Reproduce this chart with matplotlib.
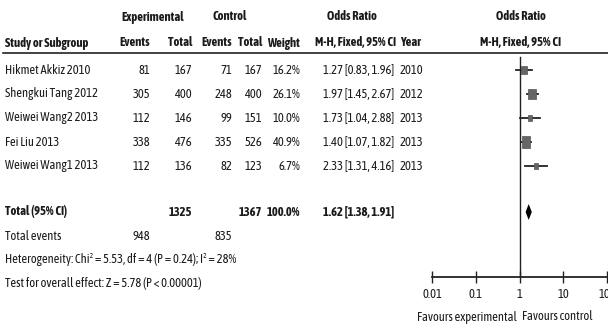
import matplotlib
matplotlib.use("Agg")
import matplotlib.pyplot as plt
from matplotlib import font_manager
import numpy as np

# pick a narrow face (with a bold cut if possible), else shrink the regular one
fonts = font_manager.fontManager.ttflist

def is_bold(f):
    w = f.weight
    if isinstance(w, str):
        return w.lower() in ("bold", "semibold", "demibold", "heavy", "black", "extra bold")
    return w >= 600

names = sorted({f.name for f in fonts})
narrow = [n for n in names if "Narrow" in n or "Condensed" in n]
narrow_bold = [n for n in narrow if any(f.name == n and is_bold(f) for f in fonts)]
if narrow_bold or narrow:
    plt.rcParams['font.family'] = [(narrow_bold or narrow)[0], 'DejaVu Sans']
    fs = 9.0
else:
    plt.rcParams['font.family'] = ['Liberation Sans', 'DejaVu Sans']
    fs = 7.2

studies = ["Hikmet Akkiz 2010", "Shengkui Tang 2012", "Weiwei Wang2 2013", "Fei Liu 2013", "Weiwei Wang1 2013"]
exp_events = [81, 305, 112, 338, 112]
exp_total = [167, 400, 146, 476, 136]
ctl_events = [71, 248, 99, 335, 82]
ctl_total = [167, 400, 151, 526, 123]
weights = [16.2, 26.1, 10.0, 40.9, 6.7]
odds = [1.27, 1.97, 1.73, 1.40, 2.33]
ci_low = [0.83, 1.45, 1.04, 1.07, 1.31]
ci_high = [1.96, 2.67, 2.88, 1.82, 4.16]
years = [2010, 2012, 2013, 2013, 2013]

total_exp, total_ctl = 1325, 1367
total_weight = 100.0
events_exp, events_ctl = 948, 835
pooled = 1.62
pooled_low, pooled_high = 1.38, 1.91
heterogeneity = "Heterogeneity: Chi\u00b2 = 5.53, df = 4 (P = 0.24); I\u00b2 = 28%"
overall = "Test for overall effect: Z = 5.78 (P < 0.00001)"
ticks = [0.01, 0.1, 1, 10, 100]
tick_labels = ["0.01", "0.1", "1", "10", "100"]

W, H = 608, 325
fig = plt.figure(figsize=(W / 100, H / 100), dpi=100)

# table area in pixel coordinates
ax = fig.add_axes([0, 0, 1, 1])
ax.set_xlim(0, W)
ax.set_ylim(H, 0)
ax.axis("off")

tc = "#1a1a1a"
row_y = [70 + 24 * i for i in range(len(studies))]
y_total, y_events, y_het, y_test = 212, 236, 260, 283

def txt(x, y, s, ha="left", bold=False):
    ax.text(x, y, s, ha=ha, va="center", fontsize=fs, color=tc,
            fontweight="bold" if bold else "normal")

# headers
txt(153, 17, "Experimental", "center", True)
txt(230, 17, "Control", "center", True)
txt(352, 17, "Odds Ratio", "center", True)
txt(521, 17, "Odds Ratio", "center", True)
txt(5, 43, "Study or Subgroup", bold=True)
txt(150, 43, "Events", "right", True)
txt(192, 43, "Total", "right", True)
txt(232, 43, "Events", "right", True)
txt(262, 43, "Total", "right", True)
txt(300, 43, "Weight", "right", True)
txt(356, 43, "M-H, Fixed, 95% CI", "center", True)
txt(400, 43, "Year", bold=True)
txt(521, 43, "M-H, Fixed, 95% CI", "center", True)
ax.plot([3, W], [53, 53], color="#222222", lw=1.2)

for i, y in enumerate(row_y):
    txt(5, y, studies[i])
    txt(150, y, str(exp_events[i]), "right")
    txt(192, y, str(exp_total[i]), "right")
    txt(232, y, str(ctl_events[i]), "right")
    txt(262, y, str(ctl_total[i]), "right")
    txt(300, y, "%.1f%%" % weights[i], "right")
    txt(323, y, "%.2f [%.2f, %.2f]" % (odds[i], ci_low[i], ci_high[i]))
    txt(400, y, str(years[i]))

txt(5, y_total, "Total (95% CI)", bold=True)
txt(192, y_total, str(total_exp), "right", True)
txt(262, y_total, str(total_ctl), "right", True)
txt(300, y_total, "%.1f%%" % total_weight, "right", True)
txt(323, y_total, "%.2f [%.2f, %.2f]" % (pooled, pooled_low, pooled_high), bold=True)
txt(5, y_events, "Total events")
txt(150, y_events, str(events_exp), "right")
txt(232, y_events, str(events_ctl), "right")
txt(5, y_het, heterogeneity)
txt(5, y_test, overall)

# forest plot
x0, x1 = 432, 607
y_top, y_axis = 53, 277
axf = fig.add_axes([x0 / W, (H - y_axis) / H, (x1 - x0) / W, (y_axis - y_top) / H])
axf.set_xscale("log")
axf.set_xlim(0.01, 100)
axf.set_ylim(y_axis, y_top)
axf.patch.set_alpha(0)
for s in ["top", "left", "right"]:
    axf.spines[s].set_visible(False)
axf.spines["bottom"].set_linewidth(1.3)
axf.spines["bottom"].set_color("#222222")
axf.set_yticks([])
axf.set_xticks(ticks)
axf.set_xticklabels(tick_labels)
axf.minorticks_off()
axf.tick_params(axis="x", direction="inout", length=8, width=1, colors="#222222",
                labelsize=fs, labelcolor=tc, pad=4)
axf.axvline(1, ymax=0.98, color="#222222", lw=1)

box = [(-0.36, -0.5), (0.36, -0.5), (0.36, 0.5), (-0.36, 0.5), (-0.36, -0.5)]
for i, y in enumerate(row_y):
    axf.plot([ci_low[i], ci_high[i]], [y, y], color="#222222", lw=1.3)
    axf.plot(odds[i], y, marker=box, markersize=1.72 * np.sqrt(weights[i]) * 0.72 + 1,
             color="#666666", markeredgecolor="#555555", markeredgewidth=0.5)

axf.fill([pooled_low, pooled, pooled_high, pooled],
         [y_total, y_total - 8, y_total, y_total + 8], color="black", lw=0)

txt(467, 317, "Favours experimental", "center")
txt(557, 317, "Favours control", "center")

fig.savefig("out.png", dpi=100)
